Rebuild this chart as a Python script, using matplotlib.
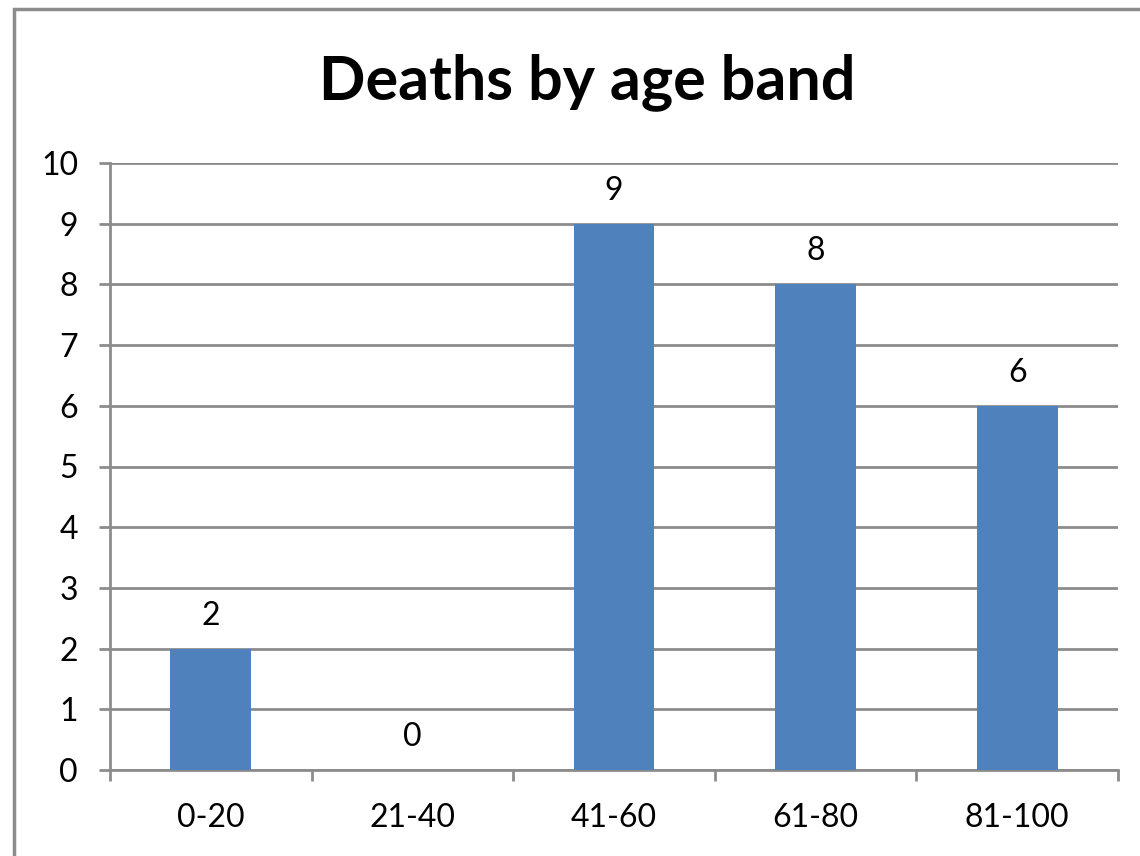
import matplotlib
matplotlib.use("Agg")
import matplotlib.pyplot as plt
from matplotlib.patches import Rectangle

categories = ["0-20", "21-40", "41-60", "61-80", "81-100"]
deaths = [2, 0, 9, 8, 6]
yticks = list(range(0, 11))
title = "Deaths by age band"

plt.rcParams['font.family'] = ['Lato', 'DejaVu Sans']

W, H = 1140, 856
fig = plt.figure(figsize=(W/100, H/100), dpi=100)
ax = fig.add_axes([110/W, 1-770/H, (1118-110)/W, (770-163)/H])

grid_c = "#8c8c8c"
fs = 23
x = list(range(len(categories)))
ax.bar(x, deaths, width=0.4, color="#4F81BD", zorder=3)
for xi, v in zip(x, deaths):
    ax.annotate(str(v), (xi, v), xytext=(0, 13), textcoords="offset points",
                ha="center", va="bottom", fontsize=fs)

ax.set_xlim(-0.5, len(categories)-0.5)
ax.set_ylim(0, 10)
ax.set_yticks(yticks)
ax.set_yticklabels([str(t) for t in yticks], fontsize=fs)
ax.yaxis.grid(True, color=grid_c, linewidth=2, zorder=0)
ax.set_xticks(x)
ax.set_xticklabels(categories, fontsize=fs)
ax.tick_params(axis='x', length=0, pad=24)
ax.set_xticks([i-0.5 for i in range(len(categories)+1)], minor=True)
ax.tick_params(axis='x', which='minor', length=8, width=2, color=grid_c)
ax.tick_params(axis='y', length=8, width=2, color=grid_c, pad=15)
for s in ['top', 'right']:
    ax.spines[s].set_visible(False)
for s in ['left', 'bottom']:
    ax.spines[s].set_color(grid_c)
    ax.spines[s].set_linewidth(2)

fig.text(587/W, 1-82/H, title, ha="center", va="center", fontsize=44, fontweight="bold")
fig.patches.append(Rectangle((14/W, -0.1), 1.2, 1-9/H+0.1, transform=fig.transFigure,
                             fill=False, edgecolor=grid_c, linewidth=2.5))
fig.savefig("out.png", dpi=100)
